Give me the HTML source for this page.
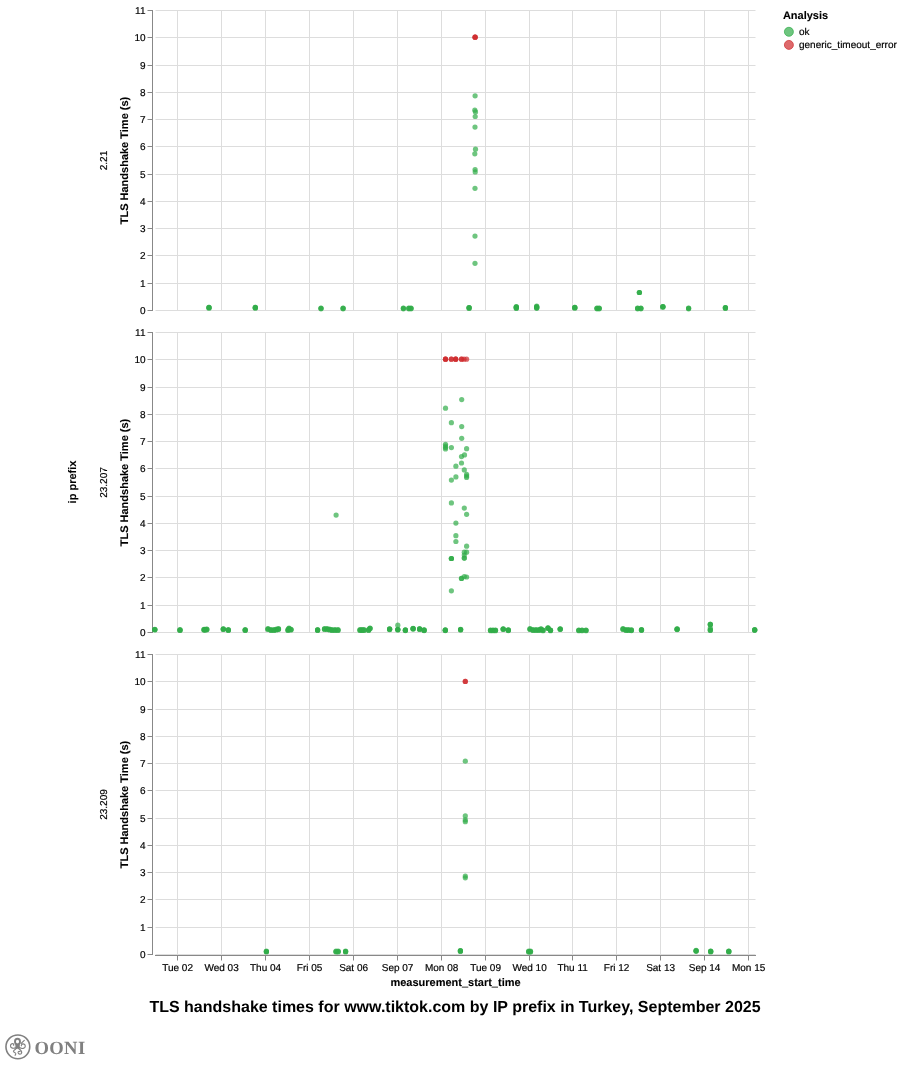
<!DOCTYPE html>
<html lang="en"><head><meta charset="utf-8"><title>TLS handshake times for www.tiktok.com by IP prefix in Turkey, September 2025</title>
<style>
html,body{margin:0;padding:0;background:#fff;}
body{width:902px;height:1072px;overflow:hidden;}
svg{display:block;font-family:"Liberation Sans",Arial,Helvetica,sans-serif;text-rendering:geometricPrecision;}
.lab{font-size:10px;fill:#000;stroke:#000;stroke-width:0.18px;}
.ttl{font-size:11px;font-weight:bold;fill:#000;stroke:#000;stroke-width:0.1px;}
.grid line{stroke:#ddd;stroke-width:1;}
.ax line{stroke:#888;stroke-width:1;}
.g{fill:#30ac48;fill-opacity:0.7;}
.r{fill:#cf2a2c;fill-opacity:0.7;}
</style></head><body>
<svg width="902" height="1072" viewBox="0 0 902 1072">
<rect width="902" height="1072" fill="#fff"/>

<g class="grid">
<line x1="177.50" x2="177.50" y1="10.0" y2="311.0"/>
<line x1="221.50" x2="221.50" y1="10.0" y2="311.0"/>
<line x1="265.50" x2="265.50" y1="10.0" y2="311.0"/>
<line x1="309.50" x2="309.50" y1="10.0" y2="311.0"/>
<line x1="353.50" x2="353.50" y1="10.0" y2="311.0"/>
<line x1="397.50" x2="397.50" y1="10.0" y2="311.0"/>
<line x1="441.50" x2="441.50" y1="10.0" y2="311.0"/>
<line x1="485.50" x2="485.50" y1="10.0" y2="311.0"/>
<line x1="529.50" x2="529.50" y1="10.0" y2="311.0"/>
<line x1="572.50" x2="572.50" y1="10.0" y2="311.0"/>
<line x1="616.50" x2="616.50" y1="10.0" y2="311.0"/>
<line x1="660.50" x2="660.50" y1="10.0" y2="311.0"/>
<line x1="704.50" x2="704.50" y1="10.0" y2="311.0"/>
<line x1="748.50" x2="748.50" y1="10.0" y2="311.0"/>
<line x1="155.5" x2="755.5" y1="310.50" y2="310.50"/>
<line x1="155.5" x2="755.5" y1="283.50" y2="283.50"/>
<line x1="155.5" x2="755.5" y1="255.50" y2="255.50"/>
<line x1="155.5" x2="755.5" y1="228.50" y2="228.50"/>
<line x1="155.5" x2="755.5" y1="201.50" y2="201.50"/>
<line x1="155.5" x2="755.5" y1="174.50" y2="174.50"/>
<line x1="155.5" x2="755.5" y1="146.50" y2="146.50"/>
<line x1="155.5" x2="755.5" y1="119.50" y2="119.50"/>
<line x1="155.5" x2="755.5" y1="92.50" y2="92.50"/>
<line x1="155.5" x2="755.5" y1="65.50" y2="65.50"/>
<line x1="155.5" x2="755.5" y1="37.50" y2="37.50"/>
<line x1="155.5" x2="755.5" y1="10.50" y2="10.50"/>
</g>
<g class="ax">
<line x1="152.5" x2="152.5" y1="10.0" y2="311.0"/>
<line x1="147.5" x2="152.5" y1="310.50" y2="310.50"/>
<line x1="147.5" x2="152.5" y1="283.50" y2="283.50"/>
<line x1="147.5" x2="152.5" y1="255.50" y2="255.50"/>
<line x1="147.5" x2="152.5" y1="228.50" y2="228.50"/>
<line x1="147.5" x2="152.5" y1="201.50" y2="201.50"/>
<line x1="147.5" x2="152.5" y1="174.50" y2="174.50"/>
<line x1="147.5" x2="152.5" y1="146.50" y2="146.50"/>
<line x1="147.5" x2="152.5" y1="119.50" y2="119.50"/>
<line x1="147.5" x2="152.5" y1="92.50" y2="92.50"/>
<line x1="147.5" x2="152.5" y1="65.50" y2="65.50"/>
<line x1="147.5" x2="152.5" y1="37.50" y2="37.50"/>
<line x1="147.5" x2="152.5" y1="10.50" y2="10.50"/>
</g>
<text class="lab" x="145.5" y="313.90" text-anchor="end">0</text>
<text class="lab" x="145.5" y="286.90" text-anchor="end">1</text>
<text class="lab" x="145.5" y="258.90" text-anchor="end">2</text>
<text class="lab" x="145.5" y="231.90" text-anchor="end">3</text>
<text class="lab" x="145.5" y="204.90" text-anchor="end">4</text>
<text class="lab" x="145.5" y="177.90" text-anchor="end">5</text>
<text class="lab" x="145.5" y="149.90" text-anchor="end">6</text>
<text class="lab" x="145.5" y="122.90" text-anchor="end">7</text>
<text class="lab" x="145.5" y="95.90" text-anchor="end">8</text>
<text class="lab" x="145.5" y="68.90" text-anchor="end">9</text>
<text class="lab" x="145.5" y="40.90" text-anchor="end">10</text>
<text class="lab" x="145.5" y="13.90" text-anchor="end">11</text>
<text class="ttl" transform="translate(128.3,160.5) rotate(-90)" text-anchor="middle">TLS Handshake Time (s)</text>
<text class="lab" transform="translate(107,160.5) rotate(-90)" text-anchor="middle">2.21</text>
<g>
<circle class="g" cx="209.0" cy="307.4" r="2.6"/>
<circle class="g" cx="209.0" cy="307.4" r="2.6"/>
<circle class="g" cx="255.3" cy="307.4" r="2.6"/>
<circle class="g" cx="255.3" cy="307.4" r="2.6"/>
<circle class="g" cx="321.0" cy="308.0" r="2.6"/>
<circle class="g" cx="343.1" cy="308.0" r="2.6"/>
<circle class="g" cx="403.4" cy="308.0" r="2.6"/>
<circle class="g" cx="408.8" cy="308.0" r="2.6"/>
<circle class="g" cx="411.0" cy="308.0" r="2.6"/>
<circle class="g" cx="469.1" cy="307.6" r="2.6"/>
<circle class="g" cx="469.1" cy="307.6" r="2.6"/>
<circle class="g" cx="516.3" cy="306.5" r="2.6"/>
<circle class="g" cx="516.3" cy="307.6" r="2.6"/>
<circle class="g" cx="536.7" cy="306.2" r="2.6"/>
<circle class="g" cx="536.7" cy="307.5" r="2.6"/>
<circle class="g" cx="574.8" cy="307.4" r="2.6"/>
<circle class="g" cx="574.8" cy="307.4" r="2.6"/>
<circle class="g" cx="597.0" cy="308.0" r="2.6"/>
<circle class="g" cx="599.2" cy="308.0" r="2.6"/>
<circle class="g" cx="639.4" cy="292.5" r="2.6"/>
<circle class="g" cx="639.4" cy="292.5" r="2.6"/>
<circle class="g" cx="639.4" cy="292.5" r="2.6"/>
<circle class="g" cx="637.6" cy="308.0" r="2.6"/>
<circle class="g" cx="640.9" cy="308.0" r="2.6"/>
<circle class="g" cx="662.9" cy="306.5" r="2.6"/>
<circle class="g" cx="662.9" cy="306.5" r="2.6"/>
<circle class="g" cx="688.6" cy="308.0" r="2.6"/>
<circle class="g" cx="725.4" cy="307.6" r="2.6"/>
<circle class="g" cx="725.4" cy="307.6" r="2.6"/>
<circle class="r" cx="475.1" cy="37.2" r="2.6"/>
<circle class="r" cx="475.1" cy="37.2" r="2.6"/>
<circle class="r" cx="475.1" cy="37.2" r="2.6"/>
<circle class="g" cx="475.1" cy="95.8" r="2.6"/>
<circle class="g" cx="474.8" cy="110.2" r="2.6"/>
<circle class="g" cx="475.5" cy="111.9" r="2.6"/>
<circle class="g" cx="475.2" cy="116.5" r="2.6"/>
<circle class="g" cx="475.0" cy="127.1" r="2.6"/>
<circle class="g" cx="475.5" cy="149.2" r="2.6"/>
<circle class="g" cx="474.8" cy="153.8" r="2.6"/>
<circle class="g" cx="475.1" cy="169.6" r="2.6"/>
<circle class="g" cx="475.2" cy="171.9" r="2.6"/>
<circle class="g" cx="475.0" cy="188.3" r="2.6"/>
<circle class="g" cx="475.0" cy="236.1" r="2.6"/>
<circle class="g" cx="475.0" cy="263.3" r="2.6"/>
<circle class="g" cx="209.0" cy="307.7" r="2.6"/>
<circle class="g" cx="209.0" cy="308.2" r="2.6"/>
<circle class="g" cx="255.3" cy="307.7" r="2.6"/>
<circle class="g" cx="255.3" cy="308.2" r="2.6"/>
<circle class="g" cx="321.0" cy="308.3" r="2.6"/>
<circle class="g" cx="321.0" cy="308.8" r="2.6"/>
<circle class="g" cx="343.1" cy="308.3" r="2.6"/>
<circle class="g" cx="343.1" cy="308.8" r="2.6"/>
<circle class="g" cx="403.4" cy="308.3" r="2.6"/>
<circle class="g" cx="403.4" cy="308.8" r="2.6"/>
<circle class="g" cx="408.8" cy="308.3" r="2.6"/>
<circle class="g" cx="408.8" cy="308.8" r="2.6"/>
<circle class="g" cx="411.0" cy="308.3" r="2.6"/>
<circle class="g" cx="411.0" cy="308.8" r="2.6"/>
<circle class="g" cx="469.1" cy="307.9" r="2.6"/>
<circle class="g" cx="469.1" cy="308.4" r="2.6"/>
<circle class="g" cx="516.3" cy="306.8" r="2.6"/>
<circle class="g" cx="516.3" cy="307.3" r="2.6"/>
<circle class="g" cx="516.3" cy="307.9" r="2.6"/>
<circle class="g" cx="516.3" cy="308.4" r="2.6"/>
<circle class="g" cx="536.7" cy="306.5" r="2.6"/>
<circle class="g" cx="536.7" cy="307.0" r="2.6"/>
<circle class="g" cx="536.7" cy="307.8" r="2.6"/>
<circle class="g" cx="536.7" cy="308.3" r="2.6"/>
<circle class="g" cx="574.8" cy="307.7" r="2.6"/>
<circle class="g" cx="574.8" cy="308.2" r="2.6"/>
<circle class="g" cx="597.0" cy="308.3" r="2.6"/>
<circle class="g" cx="597.0" cy="308.8" r="2.6"/>
<circle class="g" cx="599.2" cy="308.3" r="2.6"/>
<circle class="g" cx="599.2" cy="308.8" r="2.6"/>
<circle class="g" cx="637.6" cy="308.3" r="2.6"/>
<circle class="g" cx="637.6" cy="308.8" r="2.6"/>
<circle class="g" cx="640.9" cy="308.3" r="2.6"/>
<circle class="g" cx="640.9" cy="308.8" r="2.6"/>
<circle class="g" cx="662.9" cy="306.8" r="2.6"/>
<circle class="g" cx="662.9" cy="307.3" r="2.6"/>
<circle class="g" cx="688.6" cy="308.3" r="2.6"/>
<circle class="g" cx="688.6" cy="308.8" r="2.6"/>
<circle class="g" cx="725.4" cy="307.9" r="2.6"/>
<circle class="g" cx="725.4" cy="308.4" r="2.6"/>
</g>
<g class="grid">
<line x1="177.50" x2="177.50" y1="332.0" y2="633.0"/>
<line x1="221.50" x2="221.50" y1="332.0" y2="633.0"/>
<line x1="265.50" x2="265.50" y1="332.0" y2="633.0"/>
<line x1="309.50" x2="309.50" y1="332.0" y2="633.0"/>
<line x1="353.50" x2="353.50" y1="332.0" y2="633.0"/>
<line x1="397.50" x2="397.50" y1="332.0" y2="633.0"/>
<line x1="441.50" x2="441.50" y1="332.0" y2="633.0"/>
<line x1="485.50" x2="485.50" y1="332.0" y2="633.0"/>
<line x1="529.50" x2="529.50" y1="332.0" y2="633.0"/>
<line x1="572.50" x2="572.50" y1="332.0" y2="633.0"/>
<line x1="616.50" x2="616.50" y1="332.0" y2="633.0"/>
<line x1="660.50" x2="660.50" y1="332.0" y2="633.0"/>
<line x1="704.50" x2="704.50" y1="332.0" y2="633.0"/>
<line x1="748.50" x2="748.50" y1="332.0" y2="633.0"/>
<line x1="155.5" x2="755.5" y1="632.50" y2="632.50"/>
<line x1="155.5" x2="755.5" y1="605.50" y2="605.50"/>
<line x1="155.5" x2="755.5" y1="577.50" y2="577.50"/>
<line x1="155.5" x2="755.5" y1="550.50" y2="550.50"/>
<line x1="155.5" x2="755.5" y1="523.50" y2="523.50"/>
<line x1="155.5" x2="755.5" y1="496.50" y2="496.50"/>
<line x1="155.5" x2="755.5" y1="468.50" y2="468.50"/>
<line x1="155.5" x2="755.5" y1="441.50" y2="441.50"/>
<line x1="155.5" x2="755.5" y1="414.50" y2="414.50"/>
<line x1="155.5" x2="755.5" y1="387.50" y2="387.50"/>
<line x1="155.5" x2="755.5" y1="359.50" y2="359.50"/>
<line x1="155.5" x2="755.5" y1="332.50" y2="332.50"/>
</g>
<g class="ax">
<line x1="152.5" x2="152.5" y1="332.0" y2="633.0"/>
<line x1="147.5" x2="152.5" y1="632.50" y2="632.50"/>
<line x1="147.5" x2="152.5" y1="605.50" y2="605.50"/>
<line x1="147.5" x2="152.5" y1="577.50" y2="577.50"/>
<line x1="147.5" x2="152.5" y1="550.50" y2="550.50"/>
<line x1="147.5" x2="152.5" y1="523.50" y2="523.50"/>
<line x1="147.5" x2="152.5" y1="496.50" y2="496.50"/>
<line x1="147.5" x2="152.5" y1="468.50" y2="468.50"/>
<line x1="147.5" x2="152.5" y1="441.50" y2="441.50"/>
<line x1="147.5" x2="152.5" y1="414.50" y2="414.50"/>
<line x1="147.5" x2="152.5" y1="387.50" y2="387.50"/>
<line x1="147.5" x2="152.5" y1="359.50" y2="359.50"/>
<line x1="147.5" x2="152.5" y1="332.50" y2="332.50"/>
</g>
<text class="lab" x="145.5" y="635.90" text-anchor="end">0</text>
<text class="lab" x="145.5" y="608.90" text-anchor="end">1</text>
<text class="lab" x="145.5" y="580.90" text-anchor="end">2</text>
<text class="lab" x="145.5" y="553.90" text-anchor="end">3</text>
<text class="lab" x="145.5" y="526.90" text-anchor="end">4</text>
<text class="lab" x="145.5" y="499.90" text-anchor="end">5</text>
<text class="lab" x="145.5" y="471.90" text-anchor="end">6</text>
<text class="lab" x="145.5" y="444.90" text-anchor="end">7</text>
<text class="lab" x="145.5" y="417.90" text-anchor="end">8</text>
<text class="lab" x="145.5" y="390.90" text-anchor="end">9</text>
<text class="lab" x="145.5" y="362.90" text-anchor="end">10</text>
<text class="lab" x="145.5" y="335.90" text-anchor="end">11</text>
<text class="ttl" transform="translate(128.3,482.5) rotate(-90)" text-anchor="middle">TLS Handshake Time (s)</text>
<text class="lab" transform="translate(107,482.5) rotate(-90)" text-anchor="middle">23.207</text>
<g>
<circle class="g" cx="154.8" cy="629.6" r="2.6"/>
<circle class="g" cx="154.8" cy="629.6" r="2.6"/>
<circle class="g" cx="180.0" cy="630.0" r="2.6"/>
<circle class="g" cx="180.0" cy="630.0" r="2.6"/>
<circle class="g" cx="204.0" cy="629.7" r="2.6"/>
<circle class="g" cx="205.1" cy="629.7" r="2.6"/>
<circle class="g" cx="206.8" cy="629.4" r="2.6"/>
<circle class="g" cx="223.3" cy="629.1" r="2.6"/>
<circle class="g" cx="223.3" cy="629.1" r="2.6"/>
<circle class="g" cx="228.3" cy="630.0" r="2.6"/>
<circle class="g" cx="228.3" cy="630.0" r="2.6"/>
<circle class="g" cx="245.2" cy="630.0" r="2.6"/>
<circle class="g" cx="245.2" cy="630.0" r="2.6"/>
<circle class="g" cx="268.0" cy="629.0" r="2.6"/>
<circle class="g" cx="271.0" cy="630.0" r="2.6"/>
<circle class="g" cx="274.0" cy="630.0" r="2.6"/>
<circle class="g" cx="276.5" cy="629.5" r="2.6"/>
<circle class="g" cx="278.5" cy="629.0" r="2.6"/>
<circle class="g" cx="288.0" cy="630.0" r="2.6"/>
<circle class="g" cx="289.0" cy="628.5" r="2.6"/>
<circle class="g" cx="291.0" cy="629.6" r="2.6"/>
<circle class="g" cx="317.6" cy="630.0" r="2.6"/>
<circle class="g" cx="317.6" cy="630.0" r="2.6"/>
<circle class="g" cx="324.5" cy="629.0" r="2.6"/>
<circle class="g" cx="327.0" cy="629.0" r="2.6"/>
<circle class="g" cx="329.5" cy="629.5" r="2.6"/>
<circle class="g" cx="332.0" cy="630.0" r="2.6"/>
<circle class="g" cx="335.0" cy="630.0" r="2.6"/>
<circle class="g" cx="338.0" cy="630.0" r="2.6"/>
<circle class="g" cx="360.0" cy="630.0" r="2.6"/>
<circle class="g" cx="362.0" cy="630.0" r="2.6"/>
<circle class="g" cx="364.0" cy="630.0" r="2.6"/>
<circle class="g" cx="368.6" cy="630.0" r="2.6"/>
<circle class="g" cx="370.0" cy="628.3" r="2.6"/>
<circle class="g" cx="389.6" cy="629.2" r="2.6"/>
<circle class="g" cx="389.6" cy="629.2" r="2.6"/>
<circle class="g" cx="397.8" cy="625.2" r="2.6"/>
<circle class="g" cx="397.8" cy="629.6" r="2.6"/>
<circle class="g" cx="397.8" cy="629.6" r="2.6"/>
<circle class="g" cx="405.4" cy="630.2" r="2.6"/>
<circle class="g" cx="405.4" cy="630.2" r="2.6"/>
<circle class="g" cx="413.1" cy="628.7" r="2.6"/>
<circle class="g" cx="413.1" cy="628.7" r="2.6"/>
<circle class="g" cx="419.6" cy="629.0" r="2.6"/>
<circle class="g" cx="419.6" cy="629.0" r="2.6"/>
<circle class="g" cx="424.1" cy="630.2" r="2.6"/>
<circle class="g" cx="424.1" cy="630.2" r="2.6"/>
<circle class="g" cx="445.3" cy="630.2" r="2.6"/>
<circle class="g" cx="445.3" cy="630.2" r="2.6"/>
<circle class="g" cx="460.6" cy="629.6" r="2.6"/>
<circle class="g" cx="460.6" cy="629.6" r="2.6"/>
<circle class="g" cx="490.5" cy="630.3" r="2.6"/>
<circle class="g" cx="493.0" cy="630.3" r="2.6"/>
<circle class="g" cx="495.5" cy="630.3" r="2.6"/>
<circle class="g" cx="503.2" cy="629.1" r="2.6"/>
<circle class="g" cx="503.2" cy="629.1" r="2.6"/>
<circle class="g" cx="508.3" cy="630.2" r="2.6"/>
<circle class="g" cx="508.3" cy="630.2" r="2.6"/>
<circle class="g" cx="530.0" cy="629.0" r="2.6"/>
<circle class="g" cx="533.0" cy="630.0" r="2.6"/>
<circle class="g" cx="536.0" cy="630.0" r="2.6"/>
<circle class="g" cx="539.0" cy="630.0" r="2.6"/>
<circle class="g" cx="541.0" cy="629.2" r="2.6"/>
<circle class="g" cx="543.0" cy="630.3" r="2.6"/>
<circle class="g" cx="548.0" cy="628.1" r="2.6"/>
<circle class="g" cx="548.0" cy="628.1" r="2.6"/>
<circle class="g" cx="550.5" cy="630.3" r="2.6"/>
<circle class="g" cx="550.5" cy="630.3" r="2.6"/>
<circle class="g" cx="560.2" cy="629.1" r="2.6"/>
<circle class="g" cx="560.2" cy="629.1" r="2.6"/>
<circle class="g" cx="578.8" cy="630.3" r="2.6"/>
<circle class="g" cx="582.0" cy="630.3" r="2.6"/>
<circle class="g" cx="586.0" cy="630.3" r="2.6"/>
<circle class="g" cx="623.0" cy="629.0" r="2.6"/>
<circle class="g" cx="626.0" cy="630.0" r="2.6"/>
<circle class="g" cx="628.5" cy="630.0" r="2.6"/>
<circle class="g" cx="631.4" cy="630.2" r="2.6"/>
<circle class="g" cx="641.5" cy="629.9" r="2.6"/>
<circle class="g" cx="641.5" cy="629.9" r="2.6"/>
<circle class="g" cx="677.1" cy="629.2" r="2.6"/>
<circle class="g" cx="677.1" cy="629.2" r="2.6"/>
<circle class="g" cx="710.3" cy="624.4" r="2.6"/>
<circle class="g" cx="710.3" cy="624.4" r="2.6"/>
<circle class="g" cx="710.3" cy="624.4" r="2.6"/>
<circle class="g" cx="710.3" cy="628.0" r="2.6"/>
<circle class="g" cx="710.3" cy="630.0" r="2.6"/>
<circle class="g" cx="754.7" cy="629.9" r="2.6"/>
<circle class="g" cx="754.7" cy="629.9" r="2.6"/>
<circle class="g" cx="336.1" cy="515.1" r="2.6"/>
<circle class="r" cx="445.5" cy="359.2" r="2.6"/>
<circle class="r" cx="445.5" cy="359.2" r="2.6"/>
<circle class="r" cx="445.5" cy="359.2" r="2.6"/>
<circle class="r" cx="451.3" cy="359.2" r="2.6"/>
<circle class="r" cx="451.3" cy="359.2" r="2.6"/>
<circle class="r" cx="455.7" cy="359.2" r="2.6"/>
<circle class="r" cx="455.7" cy="359.2" r="2.6"/>
<circle class="r" cx="455.7" cy="359.2" r="2.6"/>
<circle class="r" cx="461.5" cy="359.2" r="2.6"/>
<circle class="r" cx="461.5" cy="359.2" r="2.6"/>
<circle class="r" cx="464.0" cy="359.2" r="2.6"/>
<circle class="r" cx="466.6" cy="359.2" r="2.6"/>
<circle class="g" cx="461.7" cy="399.6" r="2.6"/>
<circle class="g" cx="445.5" cy="408.2" r="2.6"/>
<circle class="g" cx="451.4" cy="422.7" r="2.6"/>
<circle class="g" cx="461.7" cy="426.6" r="2.6"/>
<circle class="g" cx="461.7" cy="438.3" r="2.6"/>
<circle class="g" cx="445.5" cy="444.3" r="2.6"/>
<circle class="g" cx="445.5" cy="446.0" r="2.6"/>
<circle class="g" cx="445.5" cy="447.5" r="2.6"/>
<circle class="g" cx="445.5" cy="449.0" r="2.6"/>
<circle class="g" cx="451.4" cy="447.6" r="2.6"/>
<circle class="g" cx="466.6" cy="448.7" r="2.6"/>
<circle class="g" cx="464.5" cy="454.9" r="2.6"/>
<circle class="g" cx="461.5" cy="456.6" r="2.6"/>
<circle class="g" cx="461.5" cy="463.0" r="2.6"/>
<circle class="g" cx="455.9" cy="466.2" r="2.6"/>
<circle class="g" cx="464.3" cy="469.9" r="2.6"/>
<circle class="g" cx="466.6" cy="474.3" r="2.6"/>
<circle class="g" cx="466.6" cy="476.0" r="2.6"/>
<circle class="g" cx="466.6" cy="477.5" r="2.6"/>
<circle class="g" cx="455.9" cy="476.9" r="2.6"/>
<circle class="g" cx="451.4" cy="480.1" r="2.6"/>
<circle class="g" cx="451.4" cy="502.9" r="2.6"/>
<circle class="g" cx="464.3" cy="508.1" r="2.6"/>
<circle class="g" cx="466.6" cy="514.3" r="2.6"/>
<circle class="g" cx="455.9" cy="523.1" r="2.6"/>
<circle class="g" cx="455.9" cy="535.7" r="2.6"/>
<circle class="g" cx="455.9" cy="541.5" r="2.6"/>
<circle class="g" cx="466.6" cy="546.2" r="2.6"/>
<circle class="g" cx="466.6" cy="552.2" r="2.6"/>
<circle class="g" cx="464.3" cy="552.2" r="2.6"/>
<circle class="g" cx="464.3" cy="555.1" r="2.6"/>
<circle class="g" cx="464.3" cy="558.1" r="2.6"/>
<circle class="g" cx="464.3" cy="558.1" r="2.6"/>
<circle class="g" cx="451.4" cy="558.5" r="2.6"/>
<circle class="g" cx="451.4" cy="558.5" r="2.6"/>
<circle class="g" cx="451.4" cy="558.5" r="2.6"/>
<circle class="g" cx="461.5" cy="578.4" r="2.6"/>
<circle class="g" cx="461.5" cy="578.4" r="2.6"/>
<circle class="g" cx="464.3" cy="576.6" r="2.6"/>
<circle class="g" cx="466.6" cy="577.0" r="2.6"/>
<circle class="g" cx="451.4" cy="590.8" r="2.6"/>
<circle class="g" cx="154.8" cy="629.3" r="2.6"/>
<circle class="g" cx="154.8" cy="630.0" r="2.6"/>
<circle class="g" cx="180.0" cy="629.7" r="2.6"/>
<circle class="g" cx="180.0" cy="630.4" r="2.6"/>
<circle class="g" cx="204.0" cy="629.4" r="2.6"/>
<circle class="g" cx="204.0" cy="630.1" r="2.6"/>
<circle class="g" cx="205.1" cy="629.4" r="2.6"/>
<circle class="g" cx="205.1" cy="630.1" r="2.6"/>
<circle class="g" cx="206.8" cy="629.1" r="2.6"/>
<circle class="g" cx="206.8" cy="629.8" r="2.6"/>
<circle class="g" cx="223.3" cy="628.8" r="2.6"/>
<circle class="g" cx="223.3" cy="629.5" r="2.6"/>
<circle class="g" cx="228.3" cy="629.7" r="2.6"/>
<circle class="g" cx="228.3" cy="630.4" r="2.6"/>
<circle class="g" cx="245.2" cy="629.7" r="2.6"/>
<circle class="g" cx="245.2" cy="630.4" r="2.6"/>
<circle class="g" cx="268.0" cy="628.7" r="2.6"/>
<circle class="g" cx="268.0" cy="629.4" r="2.6"/>
<circle class="g" cx="271.0" cy="629.7" r="2.6"/>
<circle class="g" cx="271.0" cy="630.4" r="2.6"/>
<circle class="g" cx="274.0" cy="629.7" r="2.6"/>
<circle class="g" cx="274.0" cy="630.4" r="2.6"/>
<circle class="g" cx="276.5" cy="629.2" r="2.6"/>
<circle class="g" cx="276.5" cy="629.9" r="2.6"/>
<circle class="g" cx="278.5" cy="628.7" r="2.6"/>
<circle class="g" cx="278.5" cy="629.4" r="2.6"/>
<circle class="g" cx="288.0" cy="629.7" r="2.6"/>
<circle class="g" cx="288.0" cy="630.4" r="2.6"/>
<circle class="g" cx="289.0" cy="628.2" r="2.6"/>
<circle class="g" cx="289.0" cy="628.9" r="2.6"/>
<circle class="g" cx="291.0" cy="629.3" r="2.6"/>
<circle class="g" cx="291.0" cy="630.0" r="2.6"/>
<circle class="g" cx="317.6" cy="629.7" r="2.6"/>
<circle class="g" cx="317.6" cy="630.4" r="2.6"/>
<circle class="g" cx="324.5" cy="628.7" r="2.6"/>
<circle class="g" cx="324.5" cy="629.4" r="2.6"/>
<circle class="g" cx="327.0" cy="628.7" r="2.6"/>
<circle class="g" cx="327.0" cy="629.4" r="2.6"/>
<circle class="g" cx="329.5" cy="629.2" r="2.6"/>
<circle class="g" cx="329.5" cy="629.9" r="2.6"/>
<circle class="g" cx="332.0" cy="629.7" r="2.6"/>
<circle class="g" cx="332.0" cy="630.4" r="2.6"/>
<circle class="g" cx="335.0" cy="629.7" r="2.6"/>
<circle class="g" cx="335.0" cy="630.4" r="2.6"/>
<circle class="g" cx="338.0" cy="629.7" r="2.6"/>
<circle class="g" cx="338.0" cy="630.4" r="2.6"/>
<circle class="g" cx="360.0" cy="629.7" r="2.6"/>
<circle class="g" cx="360.0" cy="630.4" r="2.6"/>
<circle class="g" cx="362.0" cy="629.7" r="2.6"/>
<circle class="g" cx="362.0" cy="630.4" r="2.6"/>
<circle class="g" cx="364.0" cy="629.7" r="2.6"/>
<circle class="g" cx="364.0" cy="630.4" r="2.6"/>
<circle class="g" cx="368.6" cy="629.7" r="2.6"/>
<circle class="g" cx="368.6" cy="630.4" r="2.6"/>
<circle class="g" cx="370.0" cy="628.0" r="2.6"/>
<circle class="g" cx="370.0" cy="628.7" r="2.6"/>
<circle class="g" cx="389.6" cy="628.9" r="2.6"/>
<circle class="g" cx="389.6" cy="629.6" r="2.6"/>
<circle class="g" cx="397.8" cy="629.3" r="2.6"/>
<circle class="g" cx="397.8" cy="630.0" r="2.6"/>
<circle class="g" cx="405.4" cy="629.9" r="2.6"/>
<circle class="g" cx="405.4" cy="630.6" r="2.6"/>
<circle class="g" cx="413.1" cy="628.4" r="2.6"/>
<circle class="g" cx="413.1" cy="629.1" r="2.6"/>
<circle class="g" cx="419.6" cy="628.7" r="2.6"/>
<circle class="g" cx="419.6" cy="629.4" r="2.6"/>
<circle class="g" cx="424.1" cy="629.9" r="2.6"/>
<circle class="g" cx="424.1" cy="630.6" r="2.6"/>
<circle class="g" cx="445.3" cy="629.9" r="2.6"/>
<circle class="g" cx="445.3" cy="630.6" r="2.6"/>
<circle class="g" cx="460.6" cy="629.3" r="2.6"/>
<circle class="g" cx="460.6" cy="630.0" r="2.6"/>
<circle class="g" cx="490.5" cy="630.0" r="2.6"/>
<circle class="g" cx="490.5" cy="630.7" r="2.6"/>
<circle class="g" cx="493.0" cy="630.0" r="2.6"/>
<circle class="g" cx="493.0" cy="630.7" r="2.6"/>
<circle class="g" cx="495.5" cy="630.0" r="2.6"/>
<circle class="g" cx="495.5" cy="630.7" r="2.6"/>
<circle class="g" cx="503.2" cy="628.8" r="2.6"/>
<circle class="g" cx="503.2" cy="629.5" r="2.6"/>
<circle class="g" cx="508.3" cy="629.9" r="2.6"/>
<circle class="g" cx="508.3" cy="630.6" r="2.6"/>
<circle class="g" cx="530.0" cy="628.7" r="2.6"/>
<circle class="g" cx="530.0" cy="629.4" r="2.6"/>
<circle class="g" cx="533.0" cy="629.7" r="2.6"/>
<circle class="g" cx="533.0" cy="630.4" r="2.6"/>
<circle class="g" cx="536.0" cy="629.7" r="2.6"/>
<circle class="g" cx="536.0" cy="630.4" r="2.6"/>
<circle class="g" cx="539.0" cy="629.7" r="2.6"/>
<circle class="g" cx="539.0" cy="630.4" r="2.6"/>
<circle class="g" cx="541.0" cy="628.9" r="2.6"/>
<circle class="g" cx="541.0" cy="629.6" r="2.6"/>
<circle class="g" cx="543.0" cy="630.0" r="2.6"/>
<circle class="g" cx="543.0" cy="630.7" r="2.6"/>
<circle class="g" cx="548.0" cy="627.8" r="2.6"/>
<circle class="g" cx="548.0" cy="628.5" r="2.6"/>
<circle class="g" cx="550.5" cy="630.0" r="2.6"/>
<circle class="g" cx="550.5" cy="630.7" r="2.6"/>
<circle class="g" cx="560.2" cy="628.8" r="2.6"/>
<circle class="g" cx="560.2" cy="629.5" r="2.6"/>
<circle class="g" cx="578.8" cy="630.0" r="2.6"/>
<circle class="g" cx="578.8" cy="630.7" r="2.6"/>
<circle class="g" cx="582.0" cy="630.0" r="2.6"/>
<circle class="g" cx="582.0" cy="630.7" r="2.6"/>
<circle class="g" cx="586.0" cy="630.0" r="2.6"/>
<circle class="g" cx="586.0" cy="630.7" r="2.6"/>
<circle class="g" cx="623.0" cy="628.7" r="2.6"/>
<circle class="g" cx="623.0" cy="629.4" r="2.6"/>
<circle class="g" cx="626.0" cy="629.7" r="2.6"/>
<circle class="g" cx="626.0" cy="630.4" r="2.6"/>
<circle class="g" cx="628.5" cy="629.7" r="2.6"/>
<circle class="g" cx="628.5" cy="630.4" r="2.6"/>
<circle class="g" cx="631.4" cy="629.9" r="2.6"/>
<circle class="g" cx="631.4" cy="630.6" r="2.6"/>
<circle class="g" cx="641.5" cy="629.6" r="2.6"/>
<circle class="g" cx="641.5" cy="630.3" r="2.6"/>
<circle class="g" cx="677.1" cy="628.9" r="2.6"/>
<circle class="g" cx="677.1" cy="629.6" r="2.6"/>
<circle class="g" cx="710.3" cy="629.7" r="2.6"/>
<circle class="g" cx="710.3" cy="630.4" r="2.6"/>
<circle class="g" cx="754.7" cy="629.6" r="2.6"/>
<circle class="g" cx="754.7" cy="630.3" r="2.6"/>
</g>
<g class="grid">
<line x1="177.50" x2="177.50" y1="654.0" y2="955.0"/>
<line x1="221.50" x2="221.50" y1="654.0" y2="955.0"/>
<line x1="265.50" x2="265.50" y1="654.0" y2="955.0"/>
<line x1="309.50" x2="309.50" y1="654.0" y2="955.0"/>
<line x1="353.50" x2="353.50" y1="654.0" y2="955.0"/>
<line x1="397.50" x2="397.50" y1="654.0" y2="955.0"/>
<line x1="441.50" x2="441.50" y1="654.0" y2="955.0"/>
<line x1="485.50" x2="485.50" y1="654.0" y2="955.0"/>
<line x1="529.50" x2="529.50" y1="654.0" y2="955.0"/>
<line x1="572.50" x2="572.50" y1="654.0" y2="955.0"/>
<line x1="616.50" x2="616.50" y1="654.0" y2="955.0"/>
<line x1="660.50" x2="660.50" y1="654.0" y2="955.0"/>
<line x1="704.50" x2="704.50" y1="654.0" y2="955.0"/>
<line x1="748.50" x2="748.50" y1="654.0" y2="955.0"/>
<line x1="155.5" x2="755.5" y1="954.50" y2="954.50"/>
<line x1="155.5" x2="755.5" y1="927.50" y2="927.50"/>
<line x1="155.5" x2="755.5" y1="899.50" y2="899.50"/>
<line x1="155.5" x2="755.5" y1="872.50" y2="872.50"/>
<line x1="155.5" x2="755.5" y1="845.50" y2="845.50"/>
<line x1="155.5" x2="755.5" y1="818.50" y2="818.50"/>
<line x1="155.5" x2="755.5" y1="790.50" y2="790.50"/>
<line x1="155.5" x2="755.5" y1="763.50" y2="763.50"/>
<line x1="155.5" x2="755.5" y1="736.50" y2="736.50"/>
<line x1="155.5" x2="755.5" y1="709.50" y2="709.50"/>
<line x1="155.5" x2="755.5" y1="681.50" y2="681.50"/>
<line x1="155.5" x2="755.5" y1="654.50" y2="654.50"/>
</g>
<g class="ax">
<line x1="152.5" x2="152.5" y1="654.0" y2="955.0"/>
<line x1="147.5" x2="152.5" y1="954.50" y2="954.50"/>
<line x1="147.5" x2="152.5" y1="927.50" y2="927.50"/>
<line x1="147.5" x2="152.5" y1="899.50" y2="899.50"/>
<line x1="147.5" x2="152.5" y1="872.50" y2="872.50"/>
<line x1="147.5" x2="152.5" y1="845.50" y2="845.50"/>
<line x1="147.5" x2="152.5" y1="818.50" y2="818.50"/>
<line x1="147.5" x2="152.5" y1="790.50" y2="790.50"/>
<line x1="147.5" x2="152.5" y1="763.50" y2="763.50"/>
<line x1="147.5" x2="152.5" y1="736.50" y2="736.50"/>
<line x1="147.5" x2="152.5" y1="709.50" y2="709.50"/>
<line x1="147.5" x2="152.5" y1="681.50" y2="681.50"/>
<line x1="147.5" x2="152.5" y1="654.50" y2="654.50"/>
</g>
<text class="lab" x="145.5" y="957.90" text-anchor="end">0</text>
<text class="lab" x="145.5" y="930.90" text-anchor="end">1</text>
<text class="lab" x="145.5" y="902.90" text-anchor="end">2</text>
<text class="lab" x="145.5" y="875.90" text-anchor="end">3</text>
<text class="lab" x="145.5" y="848.90" text-anchor="end">4</text>
<text class="lab" x="145.5" y="821.90" text-anchor="end">5</text>
<text class="lab" x="145.5" y="793.90" text-anchor="end">6</text>
<text class="lab" x="145.5" y="766.90" text-anchor="end">7</text>
<text class="lab" x="145.5" y="739.90" text-anchor="end">8</text>
<text class="lab" x="145.5" y="712.90" text-anchor="end">9</text>
<text class="lab" x="145.5" y="684.90" text-anchor="end">10</text>
<text class="lab" x="145.5" y="657.90" text-anchor="end">11</text>
<text class="ttl" transform="translate(128.3,804.5) rotate(-90)" text-anchor="middle">TLS Handshake Time (s)</text>
<text class="lab" transform="translate(107,804.5) rotate(-90)" text-anchor="middle">23.209</text>
<g>
<circle class="g" cx="266.4" cy="951.5" r="2.6"/>
<circle class="g" cx="266.4" cy="951.5" r="2.6"/>
<circle class="g" cx="336.0" cy="951.5" r="2.6"/>
<circle class="g" cx="338.2" cy="951.5" r="2.6"/>
<circle class="g" cx="345.6" cy="951.5" r="2.6"/>
<circle class="g" cx="345.6" cy="951.5" r="2.6"/>
<circle class="g" cx="460.4" cy="950.9" r="2.6"/>
<circle class="g" cx="460.4" cy="950.9" r="2.6"/>
<circle class="g" cx="528.7" cy="951.6" r="2.6"/>
<circle class="g" cx="530.5" cy="951.6" r="2.6"/>
<circle class="g" cx="696.1" cy="950.8" r="2.6"/>
<circle class="g" cx="696.1" cy="950.8" r="2.6"/>
<circle class="g" cx="710.7" cy="951.4" r="2.6"/>
<circle class="g" cx="710.7" cy="951.4" r="2.6"/>
<circle class="g" cx="728.8" cy="951.4" r="2.6"/>
<circle class="g" cx="728.8" cy="951.4" r="2.6"/>
<circle class="g" cx="465.3" cy="761.2" r="2.6"/>
<circle class="g" cx="465.3" cy="815.9" r="2.6"/>
<circle class="g" cx="465.3" cy="819.9" r="2.6"/>
<circle class="g" cx="465.3" cy="821.7" r="2.6"/>
<circle class="g" cx="465.3" cy="876.1" r="2.6"/>
<circle class="g" cx="465.3" cy="877.8" r="2.6"/>
<circle class="r" cx="465.3" cy="681.4" r="2.6"/>
<circle class="r" cx="465.3" cy="681.4" r="2.6"/>
<circle class="g" cx="266.4" cy="951.1" r="2.6"/>
<circle class="g" cx="266.4" cy="952.0" r="2.6"/>
<circle class="g" cx="336.0" cy="951.1" r="2.6"/>
<circle class="g" cx="336.0" cy="952.0" r="2.6"/>
<circle class="g" cx="338.2" cy="951.1" r="2.6"/>
<circle class="g" cx="338.2" cy="952.0" r="2.6"/>
<circle class="g" cx="345.6" cy="951.1" r="2.6"/>
<circle class="g" cx="345.6" cy="952.0" r="2.6"/>
<circle class="g" cx="460.4" cy="950.5" r="2.6"/>
<circle class="g" cx="460.4" cy="951.4" r="2.6"/>
<circle class="g" cx="528.7" cy="951.2" r="2.6"/>
<circle class="g" cx="528.7" cy="952.1" r="2.6"/>
<circle class="g" cx="530.5" cy="951.2" r="2.6"/>
<circle class="g" cx="530.5" cy="952.1" r="2.6"/>
<circle class="g" cx="696.1" cy="950.4" r="2.6"/>
<circle class="g" cx="696.1" cy="951.3" r="2.6"/>
<circle class="g" cx="710.7" cy="951.0" r="2.6"/>
<circle class="g" cx="710.7" cy="951.9" r="2.6"/>
<circle class="g" cx="728.8" cy="951.0" r="2.6"/>
<circle class="g" cx="728.8" cy="951.9" r="2.6"/>
</g>
<g class="ax">
<line x1="155.0" x2="756.0" y1="955.5" y2="955.5"/>
<line x1="177.50" x2="177.50" y1="955.5" y2="960.5"/>
<line x1="221.50" x2="221.50" y1="955.5" y2="960.5"/>
<line x1="265.50" x2="265.50" y1="955.5" y2="960.5"/>
<line x1="309.50" x2="309.50" y1="955.5" y2="960.5"/>
<line x1="353.50" x2="353.50" y1="955.5" y2="960.5"/>
<line x1="397.50" x2="397.50" y1="955.5" y2="960.5"/>
<line x1="441.50" x2="441.50" y1="955.5" y2="960.5"/>
<line x1="485.50" x2="485.50" y1="955.5" y2="960.5"/>
<line x1="529.50" x2="529.50" y1="955.5" y2="960.5"/>
<line x1="572.50" x2="572.50" y1="955.5" y2="960.5"/>
<line x1="616.50" x2="616.50" y1="955.5" y2="960.5"/>
<line x1="660.50" x2="660.50" y1="955.5" y2="960.5"/>
<line x1="704.50" x2="704.50" y1="955.5" y2="960.5"/>
<line x1="748.50" x2="748.50" y1="955.5" y2="960.5"/>
</g>
<text class="lab" x="177.60" y="971" text-anchor="middle">Tue 02</text>
<text class="lab" x="221.60" y="971" text-anchor="middle">Wed 03</text>
<text class="lab" x="265.60" y="971" text-anchor="middle">Thu 04</text>
<text class="lab" x="309.60" y="971" text-anchor="middle">Fri 05</text>
<text class="lab" x="353.60" y="971" text-anchor="middle">Sat 06</text>
<text class="lab" x="397.60" y="971" text-anchor="middle">Sep 07</text>
<text class="lab" x="441.60" y="971" text-anchor="middle">Mon 08</text>
<text class="lab" x="485.60" y="971" text-anchor="middle">Tue 09</text>
<text class="lab" x="529.60" y="971" text-anchor="middle">Wed 10</text>
<text class="lab" x="572.60" y="971" text-anchor="middle">Thu 11</text>
<text class="lab" x="616.60" y="971" text-anchor="middle">Fri 12</text>
<text class="lab" x="660.60" y="971" text-anchor="middle">Sat 13</text>
<text class="lab" x="704.60" y="971" text-anchor="middle">Sep 14</text>
<text class="lab" x="748.60" y="971" text-anchor="middle">Mon 15</text>
<text class="ttl" x="455.5" y="985.6" text-anchor="middle">measurement_start_time</text>
<text class="ttl" transform="translate(76.2,482) rotate(-90)" text-anchor="middle">ip prefix</text>
<text class="ttl" x="782.9" y="18.8">Analysis</text>
<circle cx="788.9" cy="31.8" r="4.5" fill="#30ac48" fill-opacity="0.7" stroke="#30ac48" stroke-opacity="0.7" stroke-width="1"/>
<circle cx="788.9" cy="44.9" r="4.5" fill="#cf2a2c" fill-opacity="0.7" stroke="#cf2a2c" stroke-opacity="0.7" stroke-width="1"/>
<text class="lab" x="799" y="34.8">ok</text>
<text class="lab" x="799" y="47.9">generic_timeout_error</text>
<text x="455" y="1011.6" text-anchor="middle" font-size="16" font-weight="bold" fill="#000">TLS handshake times for www.tiktok.com by IP prefix in Turkey, September 2025</text>
<g id="ooni-logo" fill="none" stroke="#808080" stroke-linecap="round" stroke-linejoin="round">
<circle cx="17.85" cy="1046.85" r="11.9" stroke-width="1.6"/>
<ellipse cx="17.5" cy="1041.6" rx="2.5" ry="2.8" stroke-width="1.9"/>
<path d="M15.7 1044.2 h3.8 v4.2 h-3.8z" fill="#808080" stroke-width="0.6"/>
<path d="M15.8 1047.8 C13.4 1048.8 10.6 1048.2 10.5 1046 C10.4 1044.2 12 1043.2 13.2 1043.8 C13.8 1044.2 13.8 1044.8 13.5 1045.2" stroke-width="1.15"/>
<path d="M19.4 1047.6 C22 1049.2 25.2 1048.4 25.3 1046.2 C25.3 1044.2 23 1043.2 21.6 1044.6 C21.2 1045 21.2 1045.4 21.4 1045.8 M21.2 1043.4 L24.3 1040.3" stroke-width="1.15"/>
<path d="M16.6 1048.4 C15 1049.6 13.3 1050.4 13.4 1051.4 C13.6 1052.6 16.2 1052.6 15.8 1054 L15.1 1055.3" stroke-width="1.15"/>
<path d="M18.6 1048.4 C20.4 1049.6 22 1051 21.7 1052.8 C21.3 1054.5 18.6 1054.6 18.1 1052.9 C17.9 1051.6 19.2 1050.9 20 1051.6" stroke-width="1.15"/>
</g>
<text x="34.4" y="1053.6" font-family="'Liberation Serif',serif" font-weight="bold" font-size="18.6" letter-spacing="0.4" fill="#808080">OONI</text>

</svg></body></html>
